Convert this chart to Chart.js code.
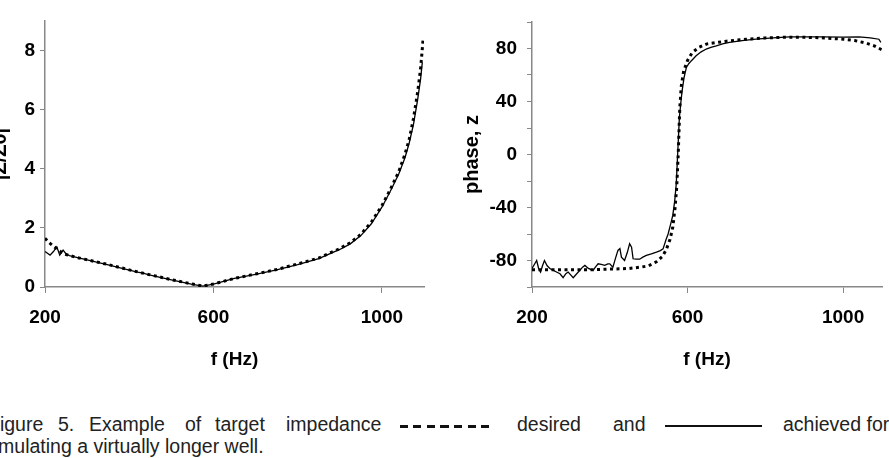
<!DOCTYPE html>
<html>
<head>
<meta charset="utf-8">
<script src="https://cdn.jsdelivr.net/npm/chart.js@4.4.0/dist/chart.umd.min.js"></script>
<style>
  body { margin: 0; width: 889px; height: 458px; overflow: hidden; background: #fff; position: relative;
         font-family: "Liberation Sans", Arial, sans-serif; }
  #boxL { position: absolute; left: -14px; top: 0; width: 458px; height: 400px; }
  #boxR { position: absolute; left: 444px; top: 0; width: 445px; height: 400px; }
  .w { position: absolute; font-size: 19.5px; line-height: 19.5px; color: #222; white-space: nowrap; }
  #dash { position: absolute; left: 400px; top: 425px; width: 90px; height: 2.5px;
          background: repeating-linear-gradient(90deg, #111 0 8px, transparent 8px 13.5px); }
  #solid { position: absolute; left: 665px; top: 425px; width: 97px; height: 2px; background: #111; }
</style>
</head>
<body>
<div id="boxL"><canvas id="chartL"></canvas></div>
<div id="boxR"><canvas id="chartR"></canvas></div>

<span class="w" style="left:-12px;top:415px">Figure</span>
<span class="w" style="left:58px;top:415px">5.</span>
<span class="w" style="left:89px;top:415px">Example</span>
<span class="w" style="left:185px;top:415px">of</span>
<span class="w" style="left:215px;top:415px">target</span>
<span class="w" style="left:286px;top:415px">impedance</span>
<div id="dash"></div>
<span class="w" style="left:517px;top:415px">desired</span>
<span class="w" style="left:613px;top:415px">and</span>
<div id="solid"></div>
<span class="w" style="left:783px;top:415px">achieved for</span>
<span class="w" style="left:-16px;top:437px">simulating a virtually longer well.</span>

<script>
// tick positions
var freqTicks = [200, 600, 1000];
var magTicks = [0, 2, 4, 6, 8];
var phaseTicks = [-100, -80, -60, -40, -20, 0, 20, 40, 60, 80, 100];
var phaseLabels = [-80, -40, 0, 40, 80];

// |Z/Z0| desired (dotted)
var magDesFreq = [200, 210, 220, 230, 240, 250, 275, 300, 350, 400, 450, 500, 550, 575, 600, 650, 700, 750, 800,
  850, 900, 925, 950, 975, 1000, 1020, 1040, 1055, 1065, 1075, 1085, 1092, 1098];
var magDes = [1.65, 1.5, 1.38, 1.27, 1.17, 1.1, 1.0, 0.92, 0.76, 0.58, 0.41, 0.25, 0.1, 0.03, 0.1, 0.29, 0.44, 0.59, 0.78,
  0.98, 1.3, 1.5, 1.78, 2.2, 2.75, 3.3, 3.9, 4.5, 5.0, 5.7, 6.6, 7.4, 8.4];

// |Z/Z0| achieved (solid)
var magAchFreq = [200, 205, 212, 220, 228, 235, 243, 250, 258, 270, 300, 350, 400, 420, 433, 445, 450, 500, 550, 575,
  600, 650, 700, 750, 800, 850, 900, 925, 950, 975, 1000, 1020, 1040, 1055, 1065, 1075, 1085, 1092, 1096];
var magAch = [1.2, 1.15, 1.08, 1.2, 1.36, 1.08, 1.25, 1.12, 1.06, 1.02, 0.92, 0.75, 0.57, 0.5, 0.47, 0.42, 0.4, 0.24, 0.09, 0.03,
  0.1, 0.29, 0.43, 0.58, 0.76, 0.96, 1.27, 1.46, 1.74, 2.14, 2.7, 3.24, 3.82, 4.38, 4.88, 5.5, 6.35, 7.05, 7.6];

// phase desired (dotted)
var phDesFreq = [200, 250, 300, 350, 400, 450, 480, 500, 520, 535, 545, 555, 562, 568, 572, 576, 580, 584, 590, 600,
  612, 630, 650, 700, 750, 800, 850, 900, 950, 1000, 1030, 1060, 1080, 1100];
var phDes = [-87, -87, -87, -87, -86.5, -86, -85, -84, -81, -77, -72, -64, -55, -40, -25, 0, 35, 52, 63, 71,
  77, 81, 83.5, 85.5, 87, 88, 88.5, 88.5, 88, 87, 86, 84, 82, 79];

// phase achieved (solid)
var phAchFreq = [200, 206, 212, 217, 222, 227, 232, 239, 246, 255, 263, 272, 280, 287, 293, 300, 306, 315, 323, 330,
  336, 345, 357, 363, 370, 378, 387, 395, 400, 408, 415, 421, 426, 430, 438, 445, 451, 456, 460, 468,
  477, 485, 494, 507, 520, 530, 537, 545, 550, 557, 562, 567, 571, 575, 579, 583, 586, 591, 597, 603,
  610, 622, 635, 648, 660, 674, 690, 708, 740, 776, 820, 862, 900, 946, 1000, 1041, 1070, 1092, 1097];
var phAch = [-86, -83, -80, -86, -88.7, -84, -80, -84, -86, -87.5, -88.7, -90, -93, -90, -88.7, -91, -93, -90, -87.5, -85,
  -83.7, -86, -87.5, -85, -82.5, -83, -83.7, -82.5, -82.5, -85, -78, -72.4, -71, -77.5, -80, -74, -67.4, -70, -78.7, -79,
  -79, -77.5, -76.2, -75, -73.7, -72.5, -71.2, -64, -60, -52, -46, -35, -22, 3, 28, 40, 48, 58, 65.7, 68.5,
  70.8, 74.5, 77.5, 79.6, 80.8, 82, 83.5, 84.6, 86, 87, 88, 88.8, 88.8, 88.8, 88.6, 88.8, 88, 87, 84.6];

function punti(xs, ys) {
  return xs.map(function (x, i) { return { x: x, y: ys[i] }; });
}

var tickFont = { family: "'Liberation Sans', Arial, sans-serif", size: 19, weight: "bold" };
var titleFont = { family: "'Liberation Sans', Arial, sans-serif", size: 20, weight: "bold" };
var grigio = "#888";

function serieDesired(data) {
  return { data: data, borderColor: "#000", borderWidth: 3, borderDash: [3, 3.5], borderCapStyle: "butt",
           pointRadius: 0, fill: false, tension: 0 };
}
function serieAchieved(data) {
  return { data: data, borderColor: "#000", borderWidth: 1.3, pointRadius: 0, fill: false, tension: 0 };
}

function asseX() {
  return {
    type: "linear", min: 200, max: 1100,
    afterBuildTicks: function (s) { s.ticks = freqTicks.map(function (v) { return { value: v }; }); },
    afterFit: function (s) { s.height = 90; },
    ticks: { font: tickFont, color: "#000", padding: 13, maxRotation: 0, autoSkip: false,
             callback: function (v) { return String(v); } },
    grid: { drawOnChartArea: false, tickLength: 6, color: grigio, lineWidth: 1 },
    border: { color: grigio, width: 1.5 },
    title: { display: true, text: "f (Hz)", font: tickFont, color: "#000", padding: { top: 0, bottom: 6 } }
  };
}

// grafico modulo
new Chart("chartL", {
  type: "line",
  data: { datasets: [serieDesired(punti(magDesFreq, magDes)), serieAchieved(punti(magAchFreq, magAch))] },
  options: {
    animation: false, responsive: true, maintainAspectRatio: false,
    layout: { padding: { top: 21, right: 20, bottom: 23, left: 0 } },
    plugins: { legend: { display: false }, tooltip: { enabled: false } },
    scales: {
      x: asseX(),
      y: {
        min: 0, max: 9,
        afterBuildTicks: function (s) { s.ticks = magTicks.map(function (v) { return { value: v }; }); },
        afterFit: function (s) { s.width = 59; },
        ticks: { font: tickFont, color: "#000", padding: 5 },
        grid: { drawOnChartArea: false, tickLength: 5, color: grigio, lineWidth: 1 },
        border: { color: grigio, width: 1.5 },
        title: { display: true, text: "|Z/Z0|", font: titleFont, color: "#000", padding: { top: 2, bottom: 0 } }
      }
    }
  }
});

// grafico fase
new Chart("chartR", {
  type: "line",
  data: { datasets: [serieDesired(punti(phDesFreq, phDes)), serieAchieved(punti(phAchFreq, phAch))] },
  options: {
    animation: false, responsive: true, maintainAspectRatio: false,
    layout: { padding: { top: 22, right: 7, bottom: 23, left: 0 } },
    plugins: { legend: { display: false }, tooltip: { enabled: false } },
    scales: {
      x: asseX(),
      y: {
        min: -100, max: 100,
        afterBuildTicks: function (s) { s.ticks = phaseTicks.map(function (v) { return { value: v }; }); },
        afterFit: function (s) { s.width = 88; },
        ticks: {
          font: tickFont, color: "#000", padding: 10,
          callback: function (v) { return phaseLabels.indexOf(v) >= 0 ? String(v) : ""; }
        },
        grid: { drawOnChartArea: false, tickLength: 5, color: grigio, lineWidth: 1 },
        border: { color: grigio, width: 1.5 },
        title: { display: true, text: "phase, z", font: titleFont, color: "#000", padding: { top: 16, bottom: 0 } }
      }
    }
  }
});
</script>
</body>
</html>
